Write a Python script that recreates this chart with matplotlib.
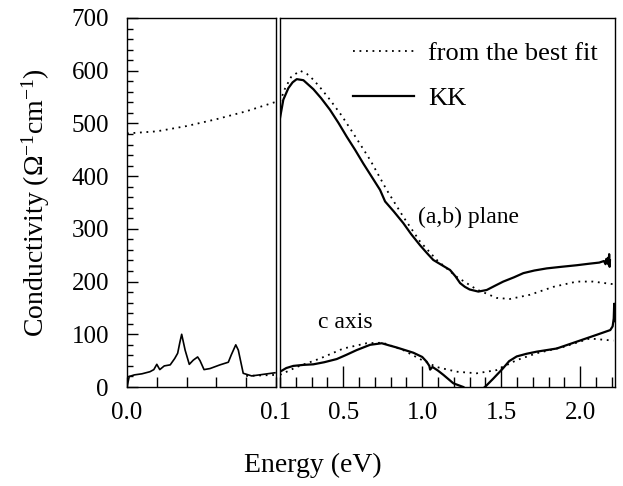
import matplotlib
matplotlib.use("Agg")
import matplotlib.pyplot as plt
from matplotlib.ticker import MultipleLocator, FixedLocator

plt.rcParams["font.family"] = ["Liberation Serif", "DejaVu Serif"]
plt.rcParams["mathtext.fontset"] = "custom"
plt.rcParams["mathtext.rm"] = "Liberation Serif"
plt.rcParams["mathtext.it"] = "Liberation Serif:italic"

# --- far-infrared part (0 - 0.1 eV) ---
e_far_kk = [0.0, 0.0015, 0.005, 0.010, 0.0154, 0.018, 0.020, 0.022, 0.025, 0.029,
            0.032, 0.034, 0.0355, 0.0367, 0.039, 0.0418, 0.0445, 0.0474, 0.049,
            0.0517, 0.0557, 0.0624, 0.068, 0.070, 0.073, 0.0747, 0.078, 0.0837,
            0.0915, 0.0993]
s_far_kk = [0, 20, 23, 25, 29, 33, 43, 33, 40, 42,
            54, 64, 85, 100, 70, 43, 51, 57, 50,
            33, 35, 42, 47, 61, 80, 70, 26, 21,
            24, 27]

e_far_fit_ab = [0.0, 0.02, 0.04, 0.06, 0.08, 0.1]
s_far_fit_ab = [481, 485, 495, 508, 523, 541]

e_far_fit_c = [0.08, 0.09, 0.1]
s_far_fit_c = [21, 22, 23]

# --- mid-infrared / visible part (0.1 - 2.2 eV) ---
e_ab_kk = [0.1, 0.121, 0.153, 0.18, 0.206, 0.248, 0.311, 0.36, 0.416, 0.47, 0.522,
           0.575, 0.627, 0.68, 0.733, 0.765, 0.82, 0.88, 0.93, 0.986, 1.03, 1.07,
           1.12, 1.176, 1.21, 1.24, 1.27, 1.30, 1.355, 1.408, 1.46, 1.513, 1.58,
           1.64, 1.71, 1.788, 1.88, 1.978, 2.06, 2.12, 2.15, 2.16, 2.165, 2.17,
           2.175, 2.18, 2.183, 2.186, 2.188]
s_ab_kk = [510, 545, 567, 578, 584, 582, 565, 548, 526, 501, 475,
           450, 424, 399, 374, 352, 333, 311, 290, 269, 254, 241,
           232, 222, 210, 197, 190, 185, 181, 184, 192, 200, 208,
           216, 221, 225, 228, 231, 234, 236, 239, 233, 243, 235,
           245, 232, 252, 228, 240]

e_ab_fit = [0.1, 0.13, 0.17, 0.227, 0.27, 0.311, 0.36, 0.416, 0.49, 0.564, 0.67,
            0.775, 0.88, 0.986, 1.092, 1.218, 1.345, 1.471, 1.555, 1.682, 1.83,
            1.978, 2.08, 2.21]
s_ab_fit = [541, 565, 588, 600, 594, 583, 566, 545, 515, 481, 431,
            374, 323, 276, 241, 209, 185, 169, 167, 175, 190,
            200, 200, 195]

e_c_kk = [0.1, 0.14, 0.184, 0.25, 0.311, 0.38, 0.459, 0.52, 0.585, 0.67, 0.744,
          0.79, 0.838, 0.944, 1.0, 1.028, 1.045, 1.05, 1.065, 1.1, 1.134, 1.197,
          1.26, 1.33, 1.397, 1.45, 1.51, 1.55, 1.598, 1.66, 1.724, 1.851, 1.978,
          2.104, 2.19, 2.205, 2.212, 2.215, 2.217]
s_c_kk = [29, 36, 40, 42, 43, 47, 53, 61, 70, 80, 83,
          79, 75, 65, 57, 48, 40, 33, 38, 31, 23, 7,
          0, -15, 0, 16, 35, 49, 58, 63, 67, 73, 86,
          99, 108, 115, 130, 158, 125]

e_c_fit = [0.1, 0.206, 0.353, 0.501, 0.648, 0.75, 0.88, 0.986, 1.09, 1.218,
           1.345, 1.47, 1.598, 1.724, 1.893, 2.06, 2.21]
s_c_fit = [23, 38, 54, 73, 83, 84, 70, 53, 38, 29,
           26, 32, 51, 64, 76, 92, 88]

fig = plt.figure(figsize=(6.23, 4.86), dpi=100)
W, H = 623.0, 486.0
ax1 = fig.add_axes([127 / W, 99 / H, 149 / W, 369 / H])
ax2 = fig.add_axes([280 / W, 99 / H, 335 / W, 369 / H])

dot = (0, (1, 2.6))
ax1.plot(e_far_fit_ab, s_far_fit_ab, color="black", lw=1.3, ls=dot)
ax1.plot(e_far_fit_c, s_far_fit_c, color="black", lw=1.3, ls=dot)
ax1.plot(e_far_kk, s_far_kk, color="black", lw=1.2)

ax2.plot(e_ab_fit, s_ab_fit, color="black", lw=1.3, ls=dot, label="from the best fit")
ax2.plot(e_c_fit, s_c_fit, color="black", lw=1.3, ls=dot)
ax2.plot(e_ab_kk, s_ab_kk, color="black", lw=1.6, label="KK")
ax2.plot(e_c_kk, s_c_kk, color="black", lw=1.6)

for ax in (ax1, ax2):
    ax.set_ylim(0, 700)
    for sp in ax.spines.values():
        sp.set_linewidth(1.0)

ax1.set_xlim(0, 0.1)
ax1.xaxis.set_major_locator(FixedLocator([0.0, 0.1]))
ax1.xaxis.set_minor_locator(FixedLocator([0.02, 0.04, 0.06, 0.08]))
ax1.set_xticklabels(["0.0", "0.1"])
ax1.yaxis.set_major_locator(MultipleLocator(100))
ax1.yaxis.set_minor_locator(MultipleLocator(20))
ax1.tick_params(axis="both", which="both", direction="in", labelsize=18,
                right=False, top=False, width=1.0)
ax1.tick_params(axis="x", which="both", length=7, pad=11)
ax1.tick_params(axis="y", which="major", length=8, pad=13)
ax1.tick_params(axis="y", which="minor", length=4.5)
ax1.set_ylabel("Conductivity ($\\Omega^{-1}$cm$^{-1}$)", fontsize=20, labelpad=14)

ax2.set_xlim(0.1, 2.22)
ax2.xaxis.set_major_locator(FixedLocator([0.5, 1.0, 1.5, 2.0]))
ax2.xaxis.set_minor_locator(MultipleLocator(0.1))
ax2.set_yticks([])
ax2.tick_params(axis="x", which="both", direction="in", labelsize=18, width=1.0, pad=11)
ax2.tick_params(axis="x", which="major", length=15)
ax2.tick_params(axis="x", which="minor", length=7)

ax2.legend(loc="upper left", bbox_to_anchor=(0.218, 0.935), frameon=False,
           fontsize=19, handlelength=2.3, handletextpad=0.55, labelspacing=0.8,
           borderpad=0, borderaxespad=0)

ax2.text(0.973, 322, "(a,b) plane", fontsize=17, va="center")
ax2.text(0.34, 123, "c axis", fontsize=17, va="center")

fig.text(313 / W, 1 - 465 / H, "Energy (eV)", fontsize=20, ha="center", va="center")

fig.savefig("out.png", dpi=100)
